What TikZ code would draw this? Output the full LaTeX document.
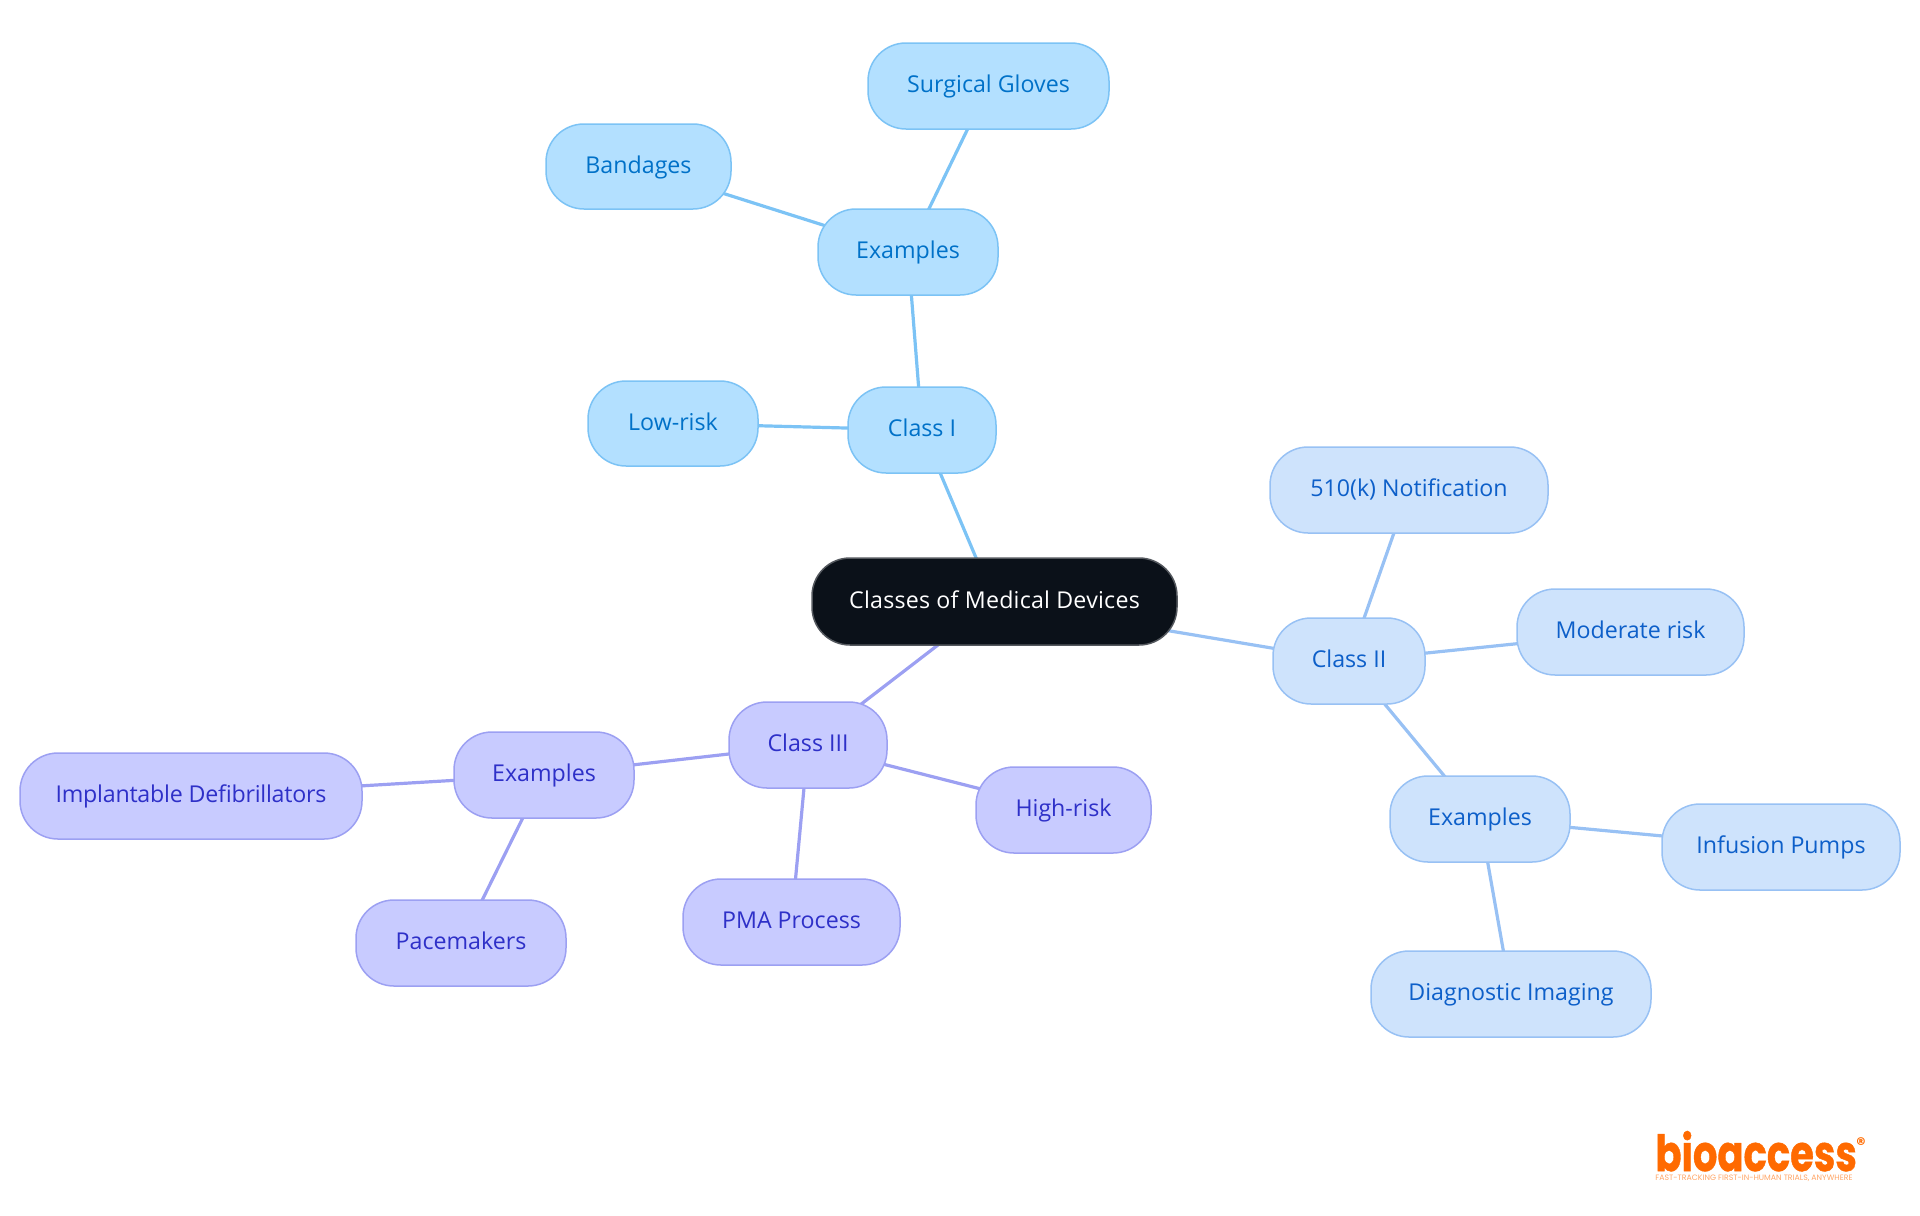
\documentclass[tikz,border=0pt]{standalone}
\usepackage{fontspec}
\setmainfont{Open Sans}
\newfontfamily\logofont{Poppins}
\newfontfamily\logoheavy[BoldFeatures={FakeBold=1}]{Poppins}
\usetikzlibrary{backgrounds}
\definecolor{aF}{HTML}{B3E0FF}\definecolor{aS}{HTML}{7CC3F5}\definecolor{aT}{HTML}{0071C8}
\definecolor{bF}{HTML}{CEE3FC}\definecolor{bS}{HTML}{98C1F4}\definecolor{bT}{HTML}{0D5FC9}
\definecolor{cF}{HTML}{C8CBFF}\definecolor{cS}{HTML}{9CA0F2}\definecolor{cT}{HTML}{2E30C8}
\definecolor{rootF}{HTML}{0B1119}\definecolor{logoC}{HTML}{FF6A00}
\tikzset{
 x=0.5pt,y=-0.5pt,
 box/.style={rounded corners=19pt,line width=0.75pt,inner sep=0pt,anchor=center,text height=9.4pt,text depth=2.5pt,font=\fontsize{11.6pt}{14pt}\selectfont},
 ca/.style={box,fill=aF,draw=aS,text=aT},
 cb/.style={box,fill=bF,draw=bS,text=bT},
 cc/.style={box,fill=cF,draw=cS,text=cT},
 rootbox/.style={box,fill=rootF,draw=rootF!70!white,text=white},
 ea/.style={draw=aS,line width=1.6pt},
 eb/.style={draw=bS,line width=1.6pt},
 ec/.style={draw=cS,line width=1.6pt},
}
\newcommand{\bx}[7]{\node[#1,minimum width=#5*0.5pt-#3*0.5pt,minimum height=#6*0.5pt-#4*0.5pt] (#2) at ({(#3+#5)/2},{(#4+#6)/2}) {#7};}
\begin{document}
\begin{tikzpicture}
\useasboundingbox (0,0) rectangle (1920,1215);
\bx{rootbox}{root}{812}{558}{1177}{645}{\addfontfeatures{LetterSpace=1.0}Classes of Medical Devices}
\bx{ca}{c1}{848}{387}{996}{473}{Class I}
\bx{ca}{ex1}{818}{209}{998}{295}{Examples}
\bx{ca}{gloves}{868}{43}{1109}{129}{Surgical Gloves}
\bx{ca}{band}{546}{124}{731}{209}{Bandages}
\bx{ca}{low}{588}{381}{758}{466}{Low-risk}
\bx{cb}{c2}{1273}{618}{1425}{704}{Class II}
\bx{cb}{k510}{1270}{447}{1548}{533}{510(k) Notification}
\bx{cb}{mod}{1517}{589}{1744}{675}{Moderate risk}
\bx{cb}{ex2}{1390}{776}{1570}{862}{Examples}
\bx{cb}{inf}{1662}{804}{1900}{890}{Infusion Pumps}
\bx{cb}{diag}{1371}{951}{1651}{1037}{Diagnostic Imaging}
\bx{cc}{c3}{729}{702}{887}{788}{Class III}
\bx{cc}{high}{976}{767}{1151}{853}{High-risk}
\bx{cc}{pma}{683}{879}{900}{965}{PMA Process}
\bx{cc}{ex3}{454}{732}{634}{818}{Examples}
\bx{cc}{impl}{20}{753}{362}{839}{\addfontfeatures{LetterSpace=-1.0}Implantable Defibrillators}
\bx{cc}{pace}{356}{900}{566}{986}{Pacemakers}
\begin{scope}[on background layer]
\draw[ea] (root.center)--(c1.center);
\draw[ea] (c1.center)--(ex1.center);
\draw[ea] (c1.center)--(low.center);
\draw[ea] (ex1.center)--(gloves.center);
\draw[ea] (ex1.center)--(band.center);
\draw[eb] (root.center)--(c2.center);
\draw[eb] (c2.center)--(k510.center);
\draw[eb] (c2.center)--(mod.center);
\draw[eb] (c2.center)--(ex2.center);
\draw[eb] (ex2.center)--(inf.center);
\draw[eb] (ex2.center)--(diag.center);
\draw[ec] (root.center)--(c3.center);
\draw[ec] (c3.center)--(high.center);
\draw[ec] (c3.center)--(pma.center);
\draw[ec] (c3.center)--(ex3.center);
\draw[ec] (ex3.center)--(impl.center);
\draw[ec] (ex3.center)--(pace.center);
\end{scope}
\node[anchor=base west,inner sep=0pt,text=logoC,font=\logoheavy\bfseries\fontsize{25pt}{26pt}\selectfont] (logo) at (1655,1171) {\scalebox{0.77}[1]{bioaccess}};
\node[inner sep=0pt,text=logoC,font=\logofont\bfseries\fontsize{9pt}{10pt}\selectfont] (reg) at (1861,1144) {®};
\node[anchor=west,inner sep=0pt,text=logoC!60!white,font=\logofont\fontsize{3.9pt}{4pt}\selectfont] (tag) at (1655,1178) {FAST-TRACKING FIRST-IN-HUMAN TRIALS, ANYWHERE};
\end{tikzpicture}
\end{document}
